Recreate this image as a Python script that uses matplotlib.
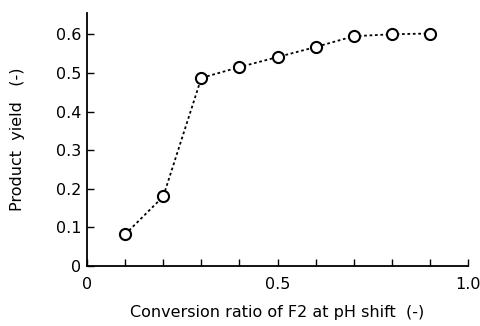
import matplotlib
matplotlib.use("Agg")
import matplotlib.pyplot as plt

# Data
ratio = [0.1, 0.2, 0.3, 0.4, 0.5, 0.6, 0.7, 0.8, 0.9]
yield_ = [0.082, 0.18, 0.487, 0.515, 0.541, 0.567, 0.595, 0.600, 0.602]

x_ticks = [0.0, 0.1, 0.2, 0.3, 0.4, 0.5, 0.6, 0.7, 0.8, 0.9, 1.0]
x_labels = ["0", "", "", "", "", "0.5", "", "", "", "", "1.0"]
y_ticks = [0.0, 0.1, 0.2, 0.3, 0.4, 0.5, 0.6]
y_labels = ["0", "0.1", "0.2", "0.3", "0.4", "0.5", "0.6"]

fig = plt.figure(figsize=(4.81, 3.26), dpi=100)
ax = fig.add_axes([0.181, 0.184, 0.792, 0.776])

ax.plot(ratio, yield_, linestyle=(0, (1.5, 1.5)), color="black", linewidth=1.3,
        marker="o", markersize=8, markerfacecolor="white",
        markeredgecolor="black", markeredgewidth=1.5, zorder=3)

ax.set_xlim(0, 1.0)
ax.set_ylim(0, 0.655)
ax.set_xticks(x_ticks)
ax.set_xticklabels(x_labels)
ax.set_yticks(y_ticks)
ax.set_yticklabels(y_labels)

for s in ["top", "right"]:
    ax.spines[s].set_visible(False)
for s in ["left", "bottom"]:
    ax.spines[s].set_linewidth(1.3)

ax.tick_params(axis="x", direction="in", length=5, width=1, labelsize=11.5, pad=8)
ax.tick_params(axis="y", direction="in", length=5, width=1, labelsize=11.5, pad=4)

ax.set_xlabel("Conversion ratio of F2 at pH shift  (-)", fontsize=11.5, labelpad=9)
ax.set_ylabel("Product  yield   (-)", fontsize=11.5, labelpad=22)

fig.savefig("out.png", dpi=100)
